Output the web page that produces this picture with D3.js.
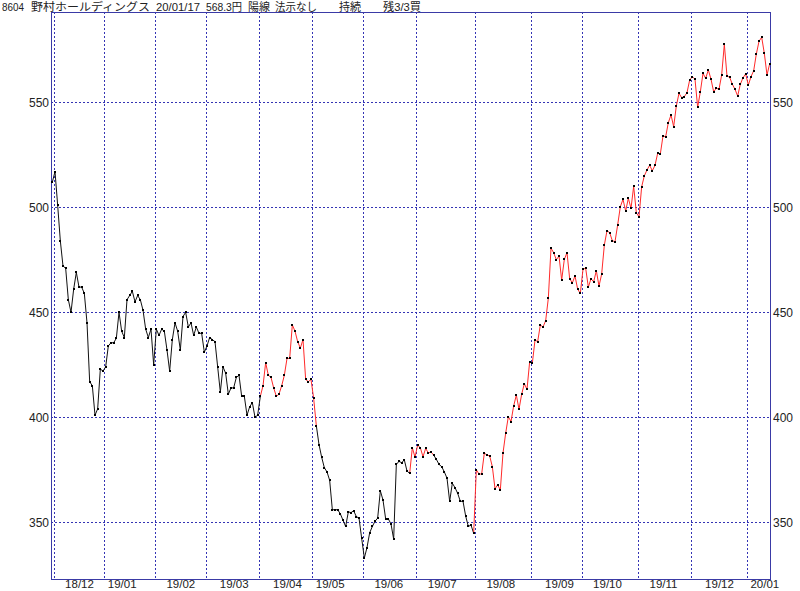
<!DOCTYPE html>
<html><head><meta charset="utf-8">
<script src="https://cdn.jsdelivr.net/npm/d3@7"></script>
<style>body{margin:0;background:#fff}svg{display:block}</style>
</head><body>
<script>
// ---- data ----
const closes = [
 // 2018/11/30 - 2018/12
 512,517,501,484,472,471,456,450,461,469,462,462,459,445,417,415,401,404,423,422,
 // 2019/01
 424,434,435.5,435.5,437.6,450,441,438,456,458,460,455,458,456,451,442,438,442,425,
 // 2019/02
 442,439,442,441,432,422,437,445,441,432,448,450,443,445,439,443,440,440,431,
 // 2019/03
 434,438,437,436,424,412,424,421,411,414,414,419,420,410,410,401,405,407,400,401,
 // 2019/04
 410,415,426,420,419,414,410,411,415,420,428,428,444,441,436,433,437,418,417,418,
 // 2019/05
 409,396,387,381,376,374,370,356,356,356,354,351,348,355,354.6,355.5,352.7,352,342.4,
 // 2019/06
 333,338,345,348,350.5,352,365,360.6,351.6,351.6,349.2,342,377.6,379,378.4,379.7,374.4,373.3,385.5,381,
 // 2019/07
 386.8,385.5,381.2,385.2,383,383.5,382,380,377.6,376.5,374,371,360,368.6,366.5,363.8,360,360,353,348,348.7,344.8,
 // 2019/08
 375,373,373,383,382,381.6,376.5,366,367.8,365.4,383,392.4,400.3,398,405.4,410.6,403.8,411,416,413.3,426.5,
 // 2019/09
 425.7,436.8,436,444,443,446,456.7,480.5,478.4,475,476.8,465.4,475.2,478.4,466,464,467.3,461,459,
 // 2019/10
 470.5,471,462,466,464.5,469.8,462.5,468.2,482,488.9,487.9,484.1,483.6,491.6,500.3,503.8,498.2,504.3,499.5,510,497.4,
 // 2019/11
 495.5,509.8,515,517.8,520,517.4,520,525.7,525.4,534,533.6,540.3,544,538.4,548.3,554.3,552.2,552.7,554.6,560.6,
 // 2019/12
 562.2,561,547.6,555,563.8,561.4,565.4,561,555,556.7,556.2,563,577.6,562.5,561.9,558.6,556.2,553,558.6,561.7,563.5,
 // 2020/01
 558.2,562.2,565,573,579,581,573.3,563,568.3
];
const monthLabels   = ["18/12","19/01","19/02","19/03","19/04","19/05","19/06","19/07","19/08","19/09","19/10","19/11","19/12","20/01"];
const monthStartIdx = [1,20,39,58,78,98,117,137,159,180,199,220,240,261];
const monthLabelIdx = [10,26,48,68,88,104,126,146,168,190,208,229,250,267];
const yTicks = [350,400,450,500,550];
const redSpans = [[78,99],[134,143],[158,269]];   // index ranges drawn in red (holding)
const titleParts = ["8604","野村ホールディングス","20/01/17","568.3円","陽線","法示なし","持続","残3/3買"];

// ---- layout ----
const W = 800, H = 591;
const L = 51, R = 771, T = 12, B = 579;
const titleX = [2, 31, 156, 206, 248, 275, 339, 383];
const titleW = [22, 119, 44, 36, 22, 42, 22, 38];
const N = closes.length;
const narrow = "'Liberation Sans Narrow','Liberation Sans',Arial,sans-serif";

const svg = d3.select("body").append("svg").attr("width", W).attr("height", H)
  .style("font-family", narrow);

const x = d3.scaleLinear().domain([-0.5, N - 0.5]).range([L, R]);
const y = d3.scaleLinear().domain([350, 550]).range([522.3, 102.3]);

const gridColor = "#3434b4";
// horizontal grid
svg.append("g").selectAll("line").data(yTicks).join("line")
  .attr("x1", L).attr("x2", R)
  .attr("y1", d => Math.round(y(d)) + 0.5).attr("y2", d => Math.round(y(d)) + 0.5)
  .attr("stroke", gridColor).attr("stroke-dasharray", "2,2").attr("shape-rendering", "crispEdges");
// vertical grid (month boundaries)
svg.append("g").selectAll("line").data(monthStartIdx).join("line")
  .attr("x1", d => Math.round(x(d - 0.5)) + 0.5).attr("x2", d => Math.round(x(d - 0.5)) + 0.5)
  .attr("y1", T).attr("y2", B)
  .attr("stroke", gridColor).attr("stroke-dasharray", "2,2").attr("shape-rendering", "crispEdges");

// border
svg.append("rect").attr("x", L + 0.5).attr("y", T + 0.5).attr("width", R - L - 1).attr("height", B - T)
  .attr("fill", "none").attr("stroke", "#3a3aa6").attr("shape-rendering", "crispEdges");

// axes (labels only)
const yl = svg.append("g").attr("transform", `translate(${L},0)`)
  .call(d3.axisLeft(y).tickValues(yTicks).tickSize(0).tickPadding(2));
const yr = svg.append("g").attr("transform", `translate(${R},0)`)
  .call(d3.axisRight(y).tickValues(yTicks).tickSize(0).tickPadding(2));
const xb = svg.append("g").attr("transform", `translate(0,${B})`)
  .call(d3.axisBottom(x).tickValues(monthLabelIdx).tickSize(0)
    .tickFormat((d, i) => monthLabels[i]));
[yl, yr, xb].forEach(g => {
  g.select(".domain").remove();
  g.selectAll("text").attr("fill", "#222").style("font-size", "12px").style("font-family", narrow);
});
xb.selectAll("text").attr("y", 9).attr("dy", 0).style("font-size", "11.5px");

// price line: split into runs of colour
const isRed = i => redSpans.some(([a, b]) => i >= a && i < b);
const runs = [];
let start = 0;
for (let i = 1; i < N; i++) {
  if (i === N - 1 || isRed(i) !== isRed(start)) {
    runs.push({ a: start, b: i, red: isRed(start) });
    start = i;
  }
}
const line = d3.line().x(i => x(i)).y(i => y(closes[i]));
svg.append("g").selectAll("path").data(runs).join("path")
  .attr("d", r => line(d3.range(r.a, r.b + 1)))
  .attr("fill", "none")
  .attr("stroke", r => r.red ? "#ff2a2a" : "#111")
  .attr("stroke-width", 1);

// point markers
svg.append("g").selectAll("rect").data(closes).join("rect")
  .attr("x", (d, i) => Math.round(x(i)) - 1).attr("y", d => Math.round(y(d)) - 1)
  .attr("width", 2).attr("height", 2).attr("fill", "#000");

// title
svg.append("g").selectAll("text").data(titleParts).join("text")
  .attr("x", (d, i) => titleX[i]).attr("y", 10.8)
  .attr("textLength", (d, i) => titleW[i]).attr("lengthAdjust", "spacingAndGlyphs")
  .attr("fill", "#222")
  .style("font-family", "'Liberation Sans','Noto Sans CJK JP',sans-serif").style("font-size", "11px")
  .text(d => d);
</script>
</body></html>
